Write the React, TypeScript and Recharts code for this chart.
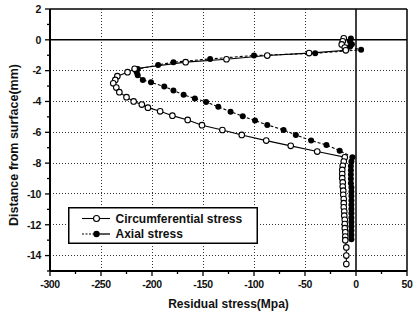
import { ScatterChart, Scatter, XAxis, YAxis, CartesianGrid, ReferenceLine, Legend } from 'recharts';

// residual stress (MPa) vs distance from surface (mm)
const circStress = [
  -12, -13, -14, -11, -10, -46, -87, -127, -167, -217, -224, -234, -236, -238, -235, -232, -225, -218,
  -210, -204, -192, -180, -165, -151, -131, -112, -88, -64, -38, -11,
  -12, -13, -13.5, -13.5, -13.5, -13, -13, -12.5, -12.5, -12, -12, -12, -11.5, -11.5, -11, -11, -11,
  -10.5, -10.5, -10.5, -9.5, -9.5, -9.5,
];
const circDepth = [
  0.1, -0.1, -0.3, -0.5, -0.68, -0.86, -1.02, -1.26, -1.45, -1.88, -2.1, -2.36, -2.6, -2.82, -3.1, -3.4, -3.72, -4.0,
  -4.2, -4.4, -4.64, -4.92, -5.2, -5.54, -5.85, -6.17, -6.54, -6.88, -7.25, -7.62,
  -7.9, -8.17, -8.44, -8.71, -8.98, -9.25, -9.52, -9.79, -10.06, -10.33, -10.6, -10.87, -11.14, -11.41, -11.68, -11.95, -12.22,
  -12.49, -12.76, -13.0, -13.47, -14.0, -14.55,
];

const axialStress = [
  -5, -6, -4, -6, 5, -40, -100, -143, -179, -194, -214, -215, -214, -209, -201, -188, -179, -169, -158,
  -147, -135, -123, -111, -99, -87, -71, -59, -44, -29, -16, -3.5,
  -4.5, -5, -5, -5, -5, -5, -4.5, -4.5, -4.5, -4.5, -4.5, -4.5, -4.5, -4.5, -4.5, -4.5, -4.5, -4.5, -4.5,
];
const axialDepth = [
  0.08, -0.1, -0.28, -0.45, -0.65, -0.87, -1.02, -1.24, -1.45, -1.63, -1.9, -2.1, -2.3, -2.6, -2.76, -3.03, -3.29, -3.57, -3.8,
  -4.03, -4.35, -4.66, -4.96, -5.24, -5.52, -5.85, -6.17, -6.54, -6.82, -7.19, -7.62,
  -7.9, -8.18, -8.46, -8.74, -9.02, -9.3, -9.58, -9.86, -10.14, -10.42, -10.7, -10.98, -11.26, -11.54, -11.82, -12.1, -12.38, -12.66, -12.94,
];

const xMajor = [-300, -250, -200, -150, -100, -50, 0, 50];
const xMinor = [-275, -225, -175, -125, -75, -25, 25];
const yMajor = [2, 0, -2, -4, -6, -8, -10, -12, -14];
const yMinor = [1, -1, -3, -5, -7, -9, -11, -13, -15];
const gridX = [-250, -200, -150, -100, -50];
const gridY = [-2, -4, -6, -8, -10, -12, -14];

const circData = circStress.map((x, i) => ({ x, y: circDepth[i] }));
const axialData = axialStress.map((x, i) => ({ x, y: axialDepth[i] }));

const FONT = '"Liberation Sans", Arial, sans-serif';

const XTick = (props: any) => {
  const { x, y, payload } = props;
  const major = xMajor.includes(payload.value);
  return (
    <g>
      <line x1={x} x2={x} y1={y} y2={y + (major ? 5 : 3)} stroke="#000" strokeWidth={1.3} />
      {major && (
        <text x={x} y={y + 17} textAnchor="middle" fontFamily={FONT} fontSize={10.5} fontWeight="bold" fill="#111" letterSpacing={-0.4}>
          {payload.value}
        </text>
      )}
    </g>
  );
};

const YTick = (props: any) => {
  const { x, y, payload } = props;
  const major = yMajor.includes(payload.value);
  return (
    <g>
      <line x1={x - (major ? 5 : 3)} x2={x} y1={y} y2={y} stroke="#000" strokeWidth={1.3} />
      {major && (
        <text x={x - 9} y={y} dy="0.36em" textAnchor="end" fontFamily={FONT} fontSize={10.5} fontWeight="bold" fill="#111" letterSpacing={-0.4}>
          {payload.value}
        </text>
      )}
    </g>
  );
};

const XTitle = (props: any) => {
  const vb = props.viewBox;
  return (
    <text x={vb.x + vb.width / 2} y={vb.y + 37} textAnchor="middle" fontFamily={FONT} fontSize={12} fontWeight="bold" fill="#111">
      Residual stress(Mpa)
    </text>
  );
};

const YTitle = (props: any) => {
  const vb = props.viewBox;
  const cx = vb.x + 14;
  const cy = vb.y + vb.height / 2 + 5;
  return (
    <text x={cx} y={cy} transform={`rotate(-90 ${cx} ${cy})`} textAnchor="middle" dominantBaseline="central" fontFamily={FONT} fontSize={12.5} fontWeight="bold" fill="#111">
      Distance from surface(mm)
    </text>
  );
};

const OpenDot = (props: any) => <circle cx={props.cx} cy={props.cy} r={2.8} fill="#fff" stroke="#000" strokeWidth={1.1} />;
const FilledDot = (props: any) => <circle cx={props.cx} cy={props.cy} r={3} fill="#000" />;

const LegendBox = () => (
  <svg width={190} height={37}>
    <rect x={0.75} y={0.75} width={188.5} height={35.5} fill="#fff" stroke="#000" strokeWidth={1.5} />
    <line x1={14} x2={42} y1={11.5} y2={11.5} stroke="#000" strokeWidth={1.1} />
    <circle cx={28.5} cy={11.5} r={3} fill="#fff" stroke="#000" strokeWidth={1.1} />
    <text x={47.5} y={11.5} dy="0.36em" fontFamily={FONT} fontSize={12} fontWeight="bold" fill="#111">Circumferential stress</text>
    <line x1={14} x2={28} y1={27} y2={27} stroke="#000" strokeWidth={1.1} strokeDasharray="2 1.5" />
    <line x1={28} x2={42} y1={27} y2={27} stroke="#000" strokeWidth={1.3} />
    <circle cx={28.5} cy={27} r={3.2} fill="#000" />
    <text x={47.5} y={27} dy="0.36em" fontFamily={FONT} fontSize={12} fontWeight="bold" fill="#111">Axial stress</text>
  </svg>
);

export default function App() {
  return (
    <div style={{ width: 413, height: 315, background: '#fff' }}>
      <style>{'body{margin:0;}'}</style>
      <ScatterChart width={413} height={315} margin={{ top: 9, right: 6, bottom: 0, left: 0 }}>
        <CartesianGrid
          stroke="#333"
          strokeWidth={1}
          strokeDasharray="1 2"
          shapeRendering="crispEdges"
          horizontalValues={gridY}
          verticalValues={gridX}
        />
        <XAxis
          type="number"
          dataKey="x"
          domain={[-300, 50]}
          ticks={[...xMajor, ...xMinor].sort((a, b) => a - b)}
          interval={0}
          tickSize={0}
          tickMargin={0}
          tickLine={false}
          tick={<XTick />}
          height={44}
          axisLine={{ stroke: '#000', strokeWidth: 2 }}
          allowDataOverflow
          label={<XTitle />}
        />
        <YAxis
          type="number"
          dataKey="y"
          domain={[-15, 2]}
          ticks={[...yMajor, ...yMinor].sort((a, b) => b - a)}
          interval={0}
          tickSize={0}
          tickMargin={0}
          tickLine={false}
          tick={<YTick />}
          width={50}
          axisLine={{ stroke: '#000', strokeWidth: 2 }}
          allowDataOverflow
          label={<YTitle />}
        />
        <ReferenceLine y={2} stroke="#000" strokeWidth={1.5} />
        <ReferenceLine x={50} stroke="#000" strokeWidth={1.5} />
        <ReferenceLine y={0} stroke="#000" strokeWidth={1.5} />
        <ReferenceLine x={0} stroke="#000" strokeWidth={1.5} />
        <Legend
          content={<LegendBox />}
          layout="vertical"
          align="center"
          verticalAlign="middle"
          wrapperStyle={{ position: 'absolute', left: 68, top: 207, width: 190, height: 37 }}
        />
        <Scatter
          name="Axial stress"
          data={axialData}
          line={{ stroke: '#000', strokeWidth: 1.1, strokeDasharray: '3 2' }}
          lineType="joint"
          shape={<FilledDot />}
          isAnimationActive={false}
        />
        <Scatter
          name="Circumferential stress"
          data={circData}
          line={{ stroke: '#000', strokeWidth: 1.1 }}
          lineType="joint"
          shape={<OpenDot />}
          isAnimationActive={false}
        />
      </ScatterChart>
    </div>
  );
}
